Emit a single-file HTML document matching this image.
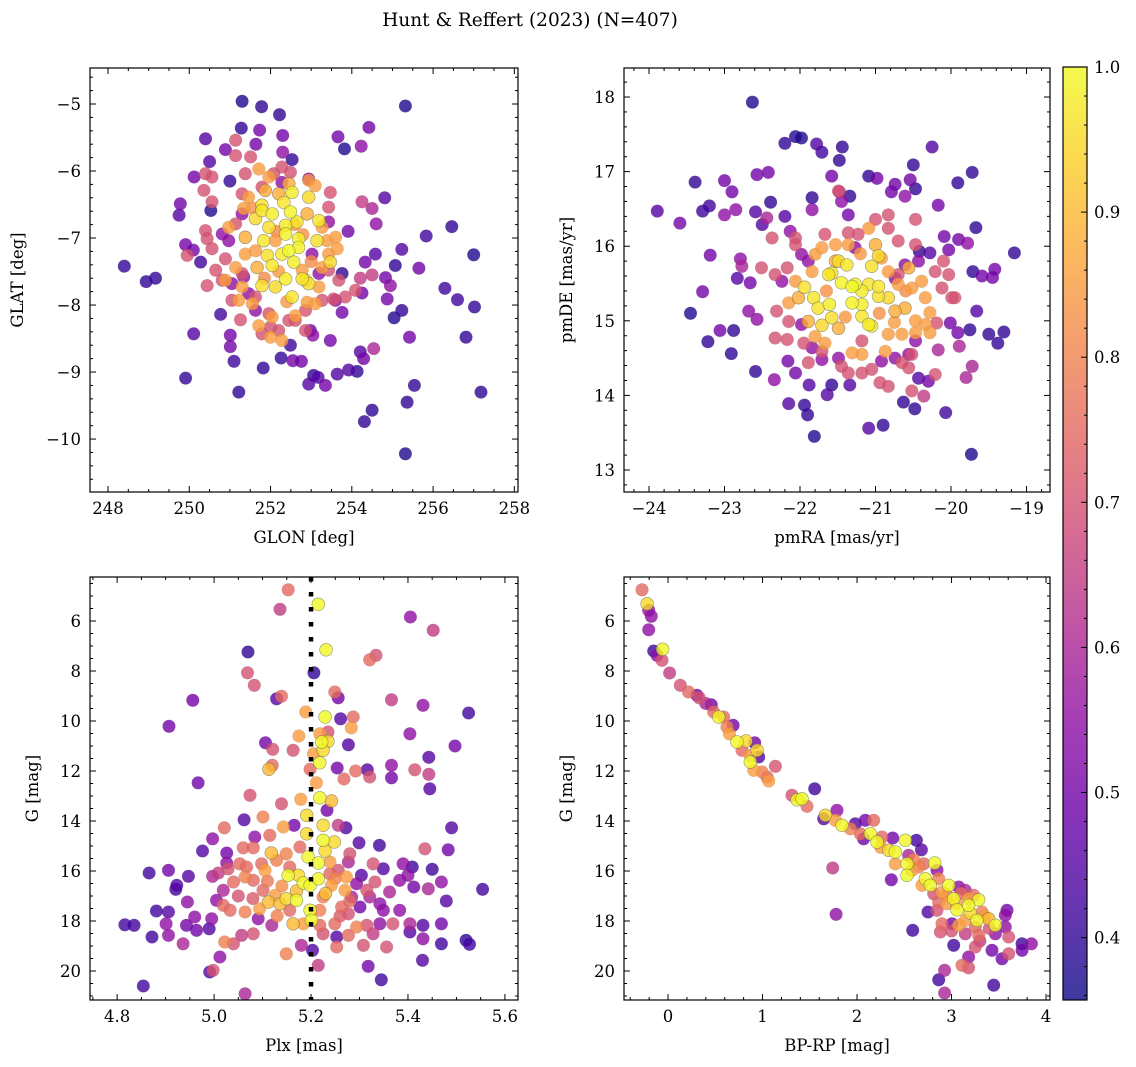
<!DOCTYPE html>
<html><head><meta charset="utf-8"><style>
html,body{margin:0;padding:0;background:#fff;}
svg{display:block;font-family:"DejaVu Serif","Liberation Serif",serif;}
</style></head><body>
<svg id="fig" width="1136" height="1067" xmlns="http://www.w3.org/2000/svg">
<text x="530" y="26" text-anchor="middle" font-size="18.5">Hunt &amp; Reffert (2023) (N=407)</text>
</svg>
<script>
// ===== DATA (x, y, membership probability) =====
const skyPts = [
[251.30,-4.96,.38],[251.78,-5.04,.4],[252.22,-5.16,.4],[255.32,-5.03,.38],[251.28,-5.36,.4],[251.73,-5.39,.5],[252.30,-5.47,.5],[250.40,-5.52,.45],[251.64,-5.60,.5],[250.89,-5.68,.5],[252.30,-5.72,.55],[252.53,-5.83,.4],[253.66,-5.49,.5],[253.82,-5.67,.38],[254.23,-5.63,.55],[254.42,-5.35,.5],[250.50,-5.86,.45],[250.12,-6.09,.5],[251.00,-6.15,.4],[249.78,-6.49,.5],[249.75,-6.66,.45],[250.53,-6.59,.38],[254.81,-6.40,.45],[254.25,-6.46,.65],[254.50,-6.56,.6],[254.60,-6.79,.55],[253.91,-6.90,.5],[256.46,-6.83,.4],[255.83,-6.97,.42],[257.00,-7.25,.38],[255.23,-7.17,.45],[254.58,-7.24,.45],[255.07,-7.41,.4],[255.65,-7.45,.5],[254.33,-7.36,.5],[248.40,-7.42,.4],[248.94,-7.65,.4],[249.17,-7.60,.4],[249.91,-7.10,.5],[250.10,-7.18,.5],[250.28,-7.36,.42],[253.76,-7.53,.4],[254.83,-7.59,.5],[254.95,-7.71,.55],[254.87,-7.91,.5],[256.29,-7.75,.42],[256.60,-7.92,.42],[257.02,-8.03,.4],[254.50,-7.55,.65],[254.21,-7.60,.65],[255.23,-8.08,.4],[255.04,-8.19,.38],[254.25,-7.82,.5],[253.76,-8.11,.5],[255.42,-8.48,.5],[256.81,-8.48,.4],[250.77,-8.14,.42],[250.11,-8.43,.45],[251.01,-8.45,.5],[251.01,-8.62,.5],[251.26,-8.22,.7],[251.10,-8.84,.42],[251.82,-8.94,.4],[252.26,-8.79,.4],[252.49,-8.60,.42],[252.55,-8.83,.5],[252.76,-8.84,.5],[252.98,-8.38,.5],[253.04,-8.45,.55],[253.47,-8.53,.5],[254.21,-8.70,.45],[254.29,-8.80,.5],[254.54,-8.65,.6],[253.92,-8.97,.45],[254.13,-8.99,.4],[253.64,-9.03,.45],[253.06,-9.05,.4],[253.17,-9.08,.45],[252.94,-9.18,.45],[253.35,-9.20,.5],[249.91,-9.09,.4],[251.22,-9.30,.4],[255.54,-9.20,.4],[257.18,-9.30,.4],[255.36,-9.45,.4],[254.50,-9.57,.4],[254.31,-9.74,.4],[255.32,-10.22,.38],
[251.38,-6.04,.7],[251.79,-6.24,.7],[250.40,-6.04,.7],[250.36,-6.29,.7],[250.56,-6.46,.7],[251.30,-6.34,.7],[251.14,-6.79,.7],[250.40,-6.89,.7],[250.44,-7.01,.7],[250.56,-7.16,.7],[249.95,-7.26,.7],[250.89,-7.31,.7],[250.65,-7.48,.7],[250.44,-7.71,.7],[250.81,-7.63,.7],[251.30,-7.53,.7],[251.05,-7.93,.7],[251.63,-7.88,.7],[251.96,-8.13,.7],[252.45,-8.23,.7],[252.86,-8.08,.7],[253.27,-7.93,.7],[253.55,-7.91,.7],[253.84,-7.88,.7],[254.09,-7.78,.7],[253.68,-7.63,.7],[253.43,-7.48,.7],[253.43,-6.54,.7],[253.47,-6.32,.7],[252.49,-6.02,.7],[252.08,-6.04,.7],[252.28,-5.94,.7],[251.14,-5.77,.7],[251.51,-5.79,.7],[251.14,-5.54,.7],[252.86,-8.38,.7],[252.20,-8.38,.7],[251.79,-8.43,.7],[252.00,-8.33,.7],[252.61,-8.23,.7],[250.56,-6.09,.7],
[252.94,-6.12,.55],[252.28,-6.17,.55],[253.43,-6.76,.55],[251.30,-6.64,.55],[250.97,-7.04,.55],[251.34,-7.58,.55],[251.05,-7.68,.55],[251.46,-7.83,.55],[253.60,-7.93,.55],[253.19,-7.53,.55],[253.02,-7.24,.55],[250.81,-6.94,.55],[251.63,-8.08,.55],
[251.71,-5.97,.85],[251.96,-6.09,.85],[251.46,-6.39,.85],[251.34,-6.56,.85],[250.97,-6.84,.85],[251.14,-7.44,.85],[251.38,-7.24,.85],[251.63,-7.19,.85],[252.12,-7.04,.85],[252.94,-6.14,.85],[253.10,-6.22,.85],[253.39,-7.04,.85],[253.60,-6.99,.85],[253.43,-7.24,.85],[253.64,-7.16,.85],[253.27,-7.44,.85],[253.19,-7.73,.85],[253.10,-7.98,.85],[252.90,-7.96,.85],[252.61,-8.16,.85],[252.04,-8.18,.85],[251.71,-8.31,.85],[252.00,-8.48,.85],[252.28,-8.53,.85],[251.22,-7.93,.85],[250.89,-7.63,.85],[251.55,-7.98,.85],[253.27,-6.84,.85],[251.30,-7.73,.85],[252.78,-7.48,.85],[252.20,-6.34,.88],[252.90,-6.64,.88],[252.45,-6.19,.88],[251.87,-6.29,.88],[251.67,-7.44,.88],[251.38,-6.99,.88],[252.15,-6.90,.82],[252.80,-6.95,.83],[251.85,-7.60,.82],[252.40,-7.95,.84],[253.00,-7.35,.82],[251.55,-6.55,.83],[252.60,-6.80,.84],[252.20,-7.50,.85],
[251.79,-6.59,.97],[252.04,-6.64,.98],[252.33,-6.47,.97],[252.53,-6.32,.98],[252.49,-6.61,.99],[252.65,-6.76,.97],[252.94,-6.39,.95],[253.19,-6.74,.97],[251.96,-6.84,.96],[252.37,-6.81,.98],[252.37,-6.94,.99],[251.83,-7.04,.97],[252.69,-7.01,.99],[253.14,-7.04,.96],[252.45,-7.19,1.0],[252.28,-7.24,.98],[251.92,-7.26,.96],[252.04,-7.41,.97],[252.57,-7.36,.98],[253.47,-7.36,.95],[252.37,-7.61,.98],[252.78,-7.61,.97],[252.86,-7.63,.96],[251.79,-7.71,.96],[252.12,-7.73,.95],[252.53,-7.88,.97],[252.94,-7.68,.96],[252.69,-7.14,.99],[251.63,-6.71,.95],[251.79,-6.51,.96]
];
const pmPts = [
[-22.63,17.93,.38],[-22.06,17.47,.38],[-21.98,17.45,.38],[-22.20,17.38,.4],[-21.78,17.37,.45],[-21.71,17.26,.42],[-21.44,17.33,.4],[-21.48,17.15,.4],[-20.25,17.33,.45],[-20.50,17.09,.4],[-21.58,16.94,.5],[-21.09,16.94,.4],[-20.98,16.91,.5],[-20.74,16.83,.5],[-20.79,16.73,.5],[-20.54,16.89,.5],[-20.47,16.77,.4],[-20.61,16.67,.55],[-19.91,16.85,.4],[-19.72,16.99,.4],[-20.17,16.55,.5],[-23.39,16.86,.4],[-23.00,16.88,.5],[-22.90,16.73,.5],[-22.57,16.96,.5],[-22.42,16.99,.5],[-23.89,16.47,.45],[-23.59,16.31,.5],[-23.29,16.47,.42],[-23.20,16.54,.42],[-23.00,16.42,.55],[-22.85,16.49,.55],[-22.59,16.46,.45],[-22.39,16.59,.4],[-22.50,16.29,.45],[-22.44,16.38,.6],[-22.20,16.40,.45],[-21.84,16.65,.4],[-21.84,16.49,.55],[-21.48,16.73,.6],[-21.34,16.67,.4],[-21.45,16.60,.55],[-21.36,16.42,.5],[-23.19,15.88,.5],[-22.79,15.83,.55],[-22.77,15.73,.6],[-22.83,15.57,.45],[-22.66,15.51,.5],[-23.29,15.39,.5],[-23.45,15.10,.38],[-22.68,15.13,.55],[-22.57,15.02,.55],[-23.06,14.87,.5],[-22.88,14.87,.4],[-23.22,14.72,.4],[-22.91,14.56,.4],[-22.59,14.32,.4],[-22.34,14.21,.55],[-22.16,14.46,.5],[-22.06,14.30,.5],[-21.88,14.14,.45],[-21.58,14.14,.4],[-21.64,14.01,.45],[-22.15,13.89,.45],[-21.94,13.87,.4],[-21.90,13.74,.4],[-21.81,13.45,.38],[-21.34,14.14,.45],[-21.09,13.56,.45],[-20.90,13.60,.4],[-20.63,13.91,.4],[-20.48,13.82,.4],[-20.07,13.77,.42],[-20.36,13.99,.65],[-20.30,14.19,.5],[-20.43,14.23,.45],[-19.73,13.21,.38],[-19.16,15.91,.4],[-19.67,16.25,.4],[-20.09,16.13,.5],[-20.03,15.95,.5],[-19.90,16.09,.5],[-19.78,16.04,.55],[-19.71,15.66,.4],[-19.59,15.60,.5],[-19.42,15.69,.5],[-19.45,15.58,.5],[-19.66,15.13,.45],[-19.75,14.88,.4],[-19.91,14.84,.5],[-19.50,14.82,.4],[-19.38,14.70,.4],[-19.30,14.85,.4],[-19.89,14.66,.6],[-19.72,14.39,.6],[-19.80,14.24,.6],[-20.17,14.61,.6],[-20.01,14.97,.5],[-19.95,15.31,.7],[-20.28,15.91,.45],[-20.42,15.93,.4],
[-21.89,15.80,.55],[-22.13,16.20,.55],[-21.98,15.89,.55],[-22.24,15.53,.55],[-21.98,14.95,.55],[-21.71,14.48,.55],[-21.84,14.64,.55],[-21.49,14.50,.55],[-20.92,14.46,.55],[-20.74,14.50,.55],[-20.56,14.55,.55],[-20.47,14.73,.55],[-20.43,15.80,.55],[-20.61,15.75,.55],[-21.27,15.98,.55],[-20.74,15.57,.55],
[-22.06,16.11,.7],[-22.06,16.02,.7],[-22.37,16.11,.7],[-22.51,15.71,.7],[-22.33,15.62,.7],[-22.17,15.71,.7],[-22.31,15.13,.7],[-22.33,14.77,.7],[-22.17,14.75,.7],[-21.95,14.70,.7],[-21.71,14.59,.7],[-21.45,14.39,.7],[-21.36,14.30,.7],[-21.18,14.30,.7],[-21.05,14.35,.7],[-20.94,14.17,.7],[-20.83,14.12,.7],[-20.56,14.37,.7],[-20.52,14.55,.7],[-20.65,14.44,.7],[-20.19,14.97,.7],[-20.12,15.44,.7],[-20.03,15.62,.7],[-19.99,15.31,.7],[-20.10,15.80,.7],[-20.21,15.66,.7],[-20.47,16.02,.7],[-20.70,16.07,.7],[-20.83,16.24,.7],[-21.00,16.36,.7],[-21.23,16.16,.7],[-21.36,16.18,.7],[-21.67,16.16,.7],[-21.49,16.74,.7],[-20.83,16.42,.7],[-20.47,16.36,.7],[-20.21,14.28,.7],[-20.52,14.06,.7],[-21.89,14.44,.7],[-21.18,14.73,.7],[-20.70,15.62,.7],[-22.15,14.99,.7],
[-22.15,15.24,.85],[-22.06,15.53,.85],[-21.84,15.66,.85],[-21.80,15.89,.85],[-21.71,15.98,.85],[-21.53,16.02,.85],[-21.36,16.02,.85],[-21.09,16.24,.85],[-20.92,15.84,.85],[-20.83,15.66,.85],[-20.70,15.49,.85],[-20.52,15.44,.85],[-20.39,15.53,.85],[-20.34,15.31,.85],[-20.28,15.11,.85],[-20.47,15.00,.85],[-20.34,14.95,.85],[-20.28,14.84,.85],[-20.47,14.84,.85],[-20.65,14.82,.85],[-20.83,14.82,.85],[-20.87,14.59,.85],[-21.18,14.55,.85],[-21.31,14.57,.85],[-21.67,14.70,.85],[-21.80,14.79,.85],[-21.49,14.90,.88],[-20.61,15.17,.88],[-20.74,15.13,.88],[-21.89,14.99,.88],[-20.56,15.71,.88],[-21.53,15.80,.88],[-21.00,16.02,.88],[-22.02,15.31,.88],[-20.95,15.10,.83],[-21.40,15.05,.84],[-20.60,15.40,.82],[-21.65,15.40,.83],[-21.20,15.90,.84],[-20.75,14.98,.85],
[-21.94,15.45,.96],[-21.82,15.31,.97],[-21.76,15.17,.97],[-21.61,15.22,.98],[-21.58,15.64,.97],[-21.49,15.80,.96],[-21.38,15.75,.97],[-21.45,15.51,.99],[-21.31,15.46,1.0],[-21.27,15.49,.99],[-21.31,15.24,.99],[-21.18,15.22,.98],[-21.18,15.40,.98],[-21.09,15.49,.97],[-20.96,15.46,.97],[-20.96,15.33,.96],[-20.83,15.31,.95],[-21.05,15.73,.96],[-20.96,15.87,.95],[-21.18,15.06,.97],[-21.09,14.95,.98],[-21.05,14.93,.97],[-21.58,15.04,.96],[-21.71,14.94,.95],[-21.62,15.62,.97]
];
const plxPts = [
[5.153,4.75,.75],[5.215,5.33,1.0],[5.136,5.53,.65],[5.405,5.84,.55],[5.452,6.37,.65],[5.231,7.15,1.0],[5.070,7.24,.4],[5.321,7.55,.75],[5.334,7.37,.7],[5.069,8.07,.7],[5.206,8.07,.4],[5.083,8.57,.7],[4.956,9.17,.5],[5.129,9.11,.45],[5.139,9.01,.75],[5.249,8.84,.75],[5.256,9.07,.5],[5.366,9.15,.65],[5.431,9.37,.55],[5.525,9.68,.42],[4.907,10.21,.5],[5.189,9.64,.85],[5.229,9.84,1.0],[5.261,9.91,.45],[5.287,9.84,.75],[5.283,10.27,.85],[5.404,10.51,.55],[5.497,11.0,.5],[5.443,11.45,.45],[5.277,10.95,.45],[5.106,10.87,.5],[5.121,11.13,.7],[5.175,10.6,.85],[5.163,11.17,.7],[5.218,10.51,.85],[5.235,10.44,.7],[5.222,10.84,1.0],[5.235,10.81,.95],[5.225,11.17,.95],[5.205,11.31,.85],[5.218,11.67,1.0],[5.120,11.77,.75],[5.113,11.93,.9],[5.198,11.93,.75],[5.254,11.88,.5],[5.268,12.32,.75],[5.292,12.0,.75],[5.316,11.95,.45],[5.321,12.24,.7],[5.366,11.77,.55],[5.366,12.27,.5],[5.414,11.95,.7],[5.443,12.13,.65],[5.445,12.71,.45],[4.967,12.47,.5],[5.211,12.47,.85],[5.179,13.13,.85],[5.218,13.07,1.0],[5.242,13.2,.9],[5.233,13.57,.5],[5.139,13.31,.7],[5.074,12.97,.7],[5.101,13.84,.8],[5.062,13.95,.45],[5.021,14.27,.75],[5.143,14.24,.85],[5.165,14.17,.5],[5.191,13.77,.95],[5.225,14.17,.95],[5.256,14.17,.65],[5.272,14.27,.45],[5.490,14.27,.45],[5.115,14.57,.75],[5.084,14.64,.55],[4.997,14.71,.55],[4.976,15.2,.45],[5.026,15.28,.5],[5.060,15.07,.75],[5.081,15.07,.75],[5.191,14.51,.95],[5.225,14.77,1.0],[5.248,14.84,.95],[5.229,15.2,.95],[5.299,14.87,.45],[5.341,14.97,.42],[5.435,15.11,.7],[5.483,15.15,.5],[5.118,15.28,.9],[5.149,15.31,.8],[5.177,15.04,.75],[5.194,15.44,1.0],[5.215,15.68,1.0],[5.239,15.64,.85],[5.280,15.31,.7],[5.277,15.64,.6],[5.328,15.71,.7],[4.866,16.08,.42],[4.906,15.97,.5],[4.947,16.21,.45],[4.923,16.57,.45],[4.921,16.73,.42],[4.997,16.21,.6],[5.009,16.08,.65],[5.026,15.68,.55],[5.029,15.91,.7],[5.053,15.71,.75],[5.067,15.84,.75],[5.098,15.71,.75],[5.105,15.97,.85],[5.129,15.57,.8],[5.156,15.84,.75],[5.153,16.17,1.0],[5.174,16.17,.95],[5.184,16.48,1.0],[5.198,16.57,1.0],[5.215,16.31,1.0],[5.239,16.11,.75],[5.256,15.97,.7],[5.273,16.24,.85],[5.304,16.17,.45],[5.349,15.91,.45],[5.390,15.71,.55],[5.409,15.84,.42],[5.400,16.17,.55],[5.450,15.93,.42],[5.469,16.44,.55],[5.554,16.73,.42],[5.383,16.37,.55],[5.412,16.64,.5],[5.442,16.71,.6],[5.479,17.2,.45],[5.362,16.84,.6],[5.332,16.44,.7],[5.315,16.77,.7],[5.294,16.51,.55],[5.270,16.77,.85],[5.242,16.57,.85],[5.225,17.04,.8],[5.198,17.57,1.0],[5.201,17.97,1.0],[5.170,17.17,1.0],[5.149,17.11,.95],[5.126,16.97,.85],[5.101,16.77,.75],[5.081,16.37,.75],[5.064,16.24,.8],[5.040,16.44,.75],[5.019,16.77,.6],[5.005,17.17,.55],[5.019,17.37,.75],[5.033,17.57,.75],[5.064,17.64,.8],[5.094,17.51,.85],[5.112,17.24,.9],[5.136,17.31,.9],[5.156,17.57,.75],[5.184,18.11,.85],[5.163,18.11,.9],[5.119,18.17,.6],[5.091,17.91,.55],[5.081,18.51,.7],[5.057,18.57,.65],[5.040,18.91,.7],[5.022,18.84,.8],[5.012,19.44,.55],[4.998,19.97,.7],[4.991,20.04,.45],[5.064,20.91,.6],[4.854,20.6,.42],[4.816,18.15,.42],[4.835,18.17,.42],[4.872,18.64,.42],[4.881,17.6,.42],[4.906,17.64,.45],[4.901,18.11,.55],[4.906,18.57,.55],[4.936,18.91,.6],[4.945,17.24,.55],[4.960,17.84,.55],[4.943,18.17,.5],[4.964,18.37,.5],[4.990,18.31,.45],[4.995,17.91,.55],[5.180,18.97,.6],[5.203,19.17,.45],[5.215,19.77,.65],[5.149,19.31,.8],[5.225,18.51,.7],[5.253,18.64,.45],[5.249,18.11,.75],[5.277,18.57,.75],[5.253,19.04,.75],[5.277,17.71,.7],[5.294,18.24,.8],[5.308,18.97,.7],[5.315,18.17,.7],[5.328,18.51,.65],[5.342,18.11,.55],[5.356,19.04,.7],[5.369,18.11,.7],[5.383,17.57,.55],[5.404,18.11,.6],[5.404,18.44,.45],[5.431,18.17,.45],[5.431,18.71,.55],[5.469,18.91,.42],[5.469,18.11,.5],[5.520,18.77,.4],[5.527,18.93,.42],[5.430,19.57,.45],[5.318,19.81,.5],[5.345,20.35,.42],[5.349,17.57,.55],[5.321,17.04,.6],[5.342,17.31,.55],[5.301,17.44,.5],[5.284,17.04,.6],[5.263,17.44,.75],[5.218,17.57,.8],[5.218,18.17,.75],
[5.140,16.60,.82],[5.110,16.40,.78],[5.250,16.30,.8],[5.280,17.20,.75],[5.080,17.10,.72],[5.170,16.80,.9],[5.230,16.90,.9],[5.050,17.00,.7],[5.130,17.80,.8],[5.260,17.80,.72]
];
const cmdPts = [
[-0.275,4.75,.75],[-0.222,5.31,.95],[-0.205,5.57,.55],[-0.177,5.81,.55],[-0.205,6.35,.55],[-0.152,7.2,.42],[-0.057,7.13,1.0],[-0.117,7.37,.55],[-0.064,7.57,.7],[0.017,8.08,.65],[0.130,8.57,.7],[0.218,8.84,.75],[0.307,8.97,.5],[0.331,9.07,.7],[0.458,9.35,.5],[0.483,9.64,.75],[0.536,9.84,1.0],[0.589,9.84,.75],[0.688,10.17,.5],[0.624,10.24,.8],[0.649,10.51,.85],[0.730,10.84,1.0],[0.825,10.8,.95],[0.917,10.87,.5],[0.942,11.17,.95],[0.783,11.17,.75],[0.871,11.37,.85],[0.959,11.44,.45],[0.871,11.64,1.0],[1.136,11.81,.7],[0.906,11.97,.85],[0.995,12.04,.8],[1.065,12.4,.85],[1.047,12.24,.75],[1.312,12.97,.7],[1.365,13.15,1.0],[1.418,13.11,1.0],[1.471,13.41,.75],[1.552,12.71,.42],[1.665,13.77,.95],[1.647,13.91,.45],[1.788,13.57,.55],[1.771,13.97,.85],[1.841,14.17,1.0],[1.929,14.31,.8],[1.982,14.11,.45],[2.088,13.97,.5],[2.176,13.97,.75],[2.035,14.51,.75],[2.141,14.51,1.0],[2.070,14.71,.5],[2.211,14.84,1.0],[2.264,14.64,.75],[2.377,14.68,.5],[2.335,15.17,.95],[2.405,15.24,1.0],[2.511,14.77,1.0],[2.628,14.77,.42],[2.681,15.15,.45],[2.546,15.37,.6],[2.529,15.71,1.0],[2.405,15.71,.85],[2.582,15.97,.85],[2.529,16.17,1.0],[2.363,16.35,.5],[2.652,15.84,.8],[2.705,15.71,.75],[2.822,15.68,1.0],[2.846,15.97,.55],[2.723,16.31,1.0],[2.776,16.57,1.0],[2.687,16.57,.85],[2.864,16.31,.8],[2.811,16.91,.7],[2.899,16.84,.85],[2.970,16.57,1.0],[3.076,16.64,.55],[3.146,16.77,.6],[3.234,16.97,.75],[3.287,17.15,1.0],[3.181,17.11,.85],[3.023,17.11,1.0],[2.952,17.31,.85],[2.864,17.24,.75],[2.846,17.57,.7],[3.058,17.55,1.0],[3.181,17.37,1.0],[3.199,17.68,.95],[3.270,17.97,1.0],[3.146,17.97,.85],[3.076,18.17,.85],[3.005,18.11,.5],[3.322,17.64,.8],[3.393,17.91,.9],[3.464,18.17,1.0],[3.569,17.77,.55],[3.587,17.57,.5],[3.569,18.24,.55],[3.252,18.24,.75],[3.146,18.51,.65],[3.287,18.57,.75],[3.464,18.51,.55],[3.605,18.64,.7],[3.746,18.91,.42],[3.845,18.91,.55],[3.746,19.17,.5],[3.605,19.31,.7],[3.534,19.51,.5],[3.428,19.17,.5],[3.252,19.04,.7],[3.023,18.97,.42],[2.899,18.11,.75],[2.882,18.44,.7],[2.751,17.64,.45],[2.589,18.37,.42],[3.181,19.44,.55],[3.181,19.87,.7],[3.111,19.77,.75],[2.927,19.97,.6],[2.864,20.35,.42],[2.927,20.88,.6],[3.446,20.57,.42],[1.742,15.88,.65],[1.778,17.73,.55],
[2.95,16.95,.8],[3.05,17.30,.85],[3.10,16.90,.75],[3.35,17.80,.85],[3.40,18.30,.7],[2.60,15.55,.8],[2.25,15.05,.85],[0.40,9.30,.6],[3.00,18.40,.7],[3.30,18.80,.65]
];
const probMin = 0.357, probMax = 1.0;
const cbarTicks = [0.4, 0.5, 0.6, 0.7, 0.8, 0.9, 1.0];
const plxRef = 5.2;

// plasma colormap
const plasma = ["#0d0887","#41049d","#6a00a8","#8f0da4","#b12a90","#cc4778","#e16462","#f2844b","#fca636","#fcce25","#f0f921"];
function hex2rgb(h){return [parseInt(h.slice(1,3),16),parseInt(h.slice(3,5),16),parseInt(h.slice(5,7),16)];}
function cmap(t){t=Math.max(0,Math.min(1,t));const s=t*10,i=Math.min(9,Math.floor(s)),f=s-i;const a=hex2rgb(plasma[i]),b=hex2rgb(plasma[i+1]);return `rgb(${a.map((v,k)=>Math.round(v+(b[k]-v)*f)).join(',')})`;}
function pcol(p){return cmap((p-probMin)/(probMax-probMin));}

const NS="http://www.w3.org/2000/svg";
const svg=document.getElementById('fig');
function mk(tag,attrs,parent){const e=document.createElementNS(NS,tag);for(const k in attrs)e.setAttribute(k,attrs[k]);(parent||svg).appendChild(e);return e;}
function fmt(v,dec){const s=Math.abs(v).toFixed(dec);return (v<0?'\u2212':'')+s;}

function panel(cfg){
  const g=mk('g',{});
  
  
  const {L,R,T,B,x0,x1,y0,y1}=cfg;
  const sx=v=>L+(v-x0)/(x1-x0)*(R-L);
  const sy=v=>T+(v-y0)/(y1-y0)*(B-T);
  const cid='clip-'+cfg.name;
  const cp=mk('clipPath',{id:cid},g);mk('rect',{x:L,y:T,width:R-L,height:B-T},cp);
  const pg=mk('g',{'clip-path':`url(#${cid})`},g);
  
  
  const pts=cfg.pts.slice().sort((a,b)=>a[2]-b[2]);
  for(const p of pts){
    const c=mk('circle',{cx:sx(p[0]).toFixed(1),cy:sy(p[1]).toFixed(1),r:6.4,fill:pcol(p[2]),'fill-opacity':0.8,stroke:'#555','stroke-opacity':p[2]>0.85?0.6:0.15,'stroke-width':0.6},pg);
    
    
  }
  if(cfg.vline!==undefined){
    const l=mk('line',{x1:sx(cfg.vline),x2:sx(cfg.vline),y1:T,y2:B,stroke:'#000','stroke-width':4.5,'stroke-dasharray':'4.5,10.5'},g);
    
    
  }
  const tk=mk('g',{stroke:'#000','stroke-width':1},g);
  
  
  const eps=1e-6;
  function range(a,b,step){const out=[];const s=Math.ceil(Math.min(a,b)/step-eps);for(let k=s;k*step<=Math.max(a,b)+eps;k++)out.push(+(k*step).toFixed(6));return out;}
  for(const v of range(x0,x1,cfg.xmin)){const X=sx(v);const maj=Math.abs(v/cfg.xmaj-Math.round(v/cfg.xmaj))<1e-4;const len=maj?6:3;
    mk('line',{x1:X,x2:X,y1:B,y2:B-len},tk);mk('line',{x1:X,x2:X,y1:T,y2:T+len},tk);}
  for(const v of range(y0,y1,cfg.ymin)){const Y=sy(v);const maj=Math.abs(v/cfg.ymaj-Math.round(v/cfg.ymaj))<1e-4;const len=maj?6:3;
    mk('line',{x1:L,x2:L+len,y1:Y,y2:Y},tk);mk('line',{x1:R,x2:R-len,y1:Y,y2:Y},tk);}
  for(const v of range(x0,x1,cfg.xmaj)){const X=sx(v);if(X<L-1||X>R+1)continue;
    const t=mk('text',{x:X,y:B+22,'text-anchor':'middle','font-size':16.5},g);t.textContent=fmt(v,cfg.xdec);
    }
  for(const v of range(y0,y1,cfg.ymaj)){const Y=sy(v);if(Y<T-1||Y>B+1)continue;
    const t=mk('text',{x:L-9,y:Y+6,'text-anchor':'end','font-size':16.5},g);t.textContent=fmt(v,cfg.ydec);
    }
  mk('rect',{x:L,y:T,width:R-L,height:B-T,fill:'none',stroke:'#000','stroke-width':1.2},g);
  const xl=mk('text',{x:(L+R)/2,y:B+51,'text-anchor':'middle','font-size':16.5},g);xl.textContent=cfg.xlabel;
  
  const yx=cfg.ylx, yy=(T+B)/2;
  const yl=mk('text',{x:yx,y:yy,'text-anchor':'middle','font-size':16.5,transform:`rotate(-90 ${yx} ${yy})`},g);yl.textContent=cfg.ylabel;
  
}

panel({name:'sky-panel',pts:skyPts,L:90,R:518,T:68,B:492,x0:247.557,x1:258.09,y0:-4.463,y1:-10.79,xmaj:2,xmin:0.5,ymaj:1,ymin:0.2,xdec:0,ydec:0,xlabel:'GLON [deg]',ylabel:'GLAT [deg]',ylx:23});
panel({name:'proper-motion-panel',pts:pmPts,L:624,R:1050,T:68,B:492,x0:-24.331,x1:-18.689,y0:18.389,y1:12.705,xmaj:1,xmin:0.2,ymaj:1,ymin:0.2,xdec:0,ydec:0,xlabel:'pmRA [mas/yr]',ylabel:'pmDE [mas/yr]',ylx:572});
panel({name:'parallax-panel',pts:plxPts,L:90,R:518,T:577,B:1000,x0:4.744,x1:5.627,y0:4.24,y1:21.16,xmaj:0.2,xmin:0.05,ymaj:2,ymin:0.5,xdec:1,ydec:0,xlabel:'Plx [mas]',ylabel:'G [mag]',ylx:38,vline:plxRef});
panel({name:'cmd-panel',pts:cmdPts,L:624,R:1050,T:577,B:1000,x0:-0.466,x1:4.042,y0:4.24,y1:21.16,xmaj:1,xmin:0.2,ymaj:2,ymin:0.5,xdec:0,ydec:0,xlabel:'BP-RP [mag]',ylabel:'G [mag]',ylx:572});

(function(){
  const L=1063,R=1087,T=67,B=1000;
  const g=mk('g',{});
  
  
  const defs=mk('defs',{},g);
  const lg=mk('linearGradient',{id:'cbgrad',x1:0,y1:1,x2:0,y2:0},defs);
  for(let i=0;i<=20;i++){mk('stop',{offset:(i/20),'stop-color':cmap(i/20)},lg);}
  mk('rect',{x:L,y:T,width:R-L,height:B-T,fill:'url(#cbgrad)','fill-opacity':0.8},g);
  const sy=v=>B-(v-probMin)/(probMax-probMin)*(B-T);
  for(let k=18;k<=50;k++){const v=k*0.02;if(v<probMin||v>probMax+1e-9)continue;const Y=sy(v);
    const maj=cbarTicks.some(t=>Math.abs(t-v)<1e-6);
    mk('line',{x1:R,x2:R-(maj?6:3),y1:Y,y2:Y,stroke:'#000','stroke-width':1},g);}
  for(const v of cbarTicks){const t=mk('text',{x:R+7,y:sy(v)+6,'font-size':16.5},g);t.textContent=v.toFixed(1);
    }
  mk('rect',{x:L,y:T,width:R-L,height:B-T,fill:'none',stroke:'#000','stroke-width':1.2},g);
})();
</script>
</body></html>
